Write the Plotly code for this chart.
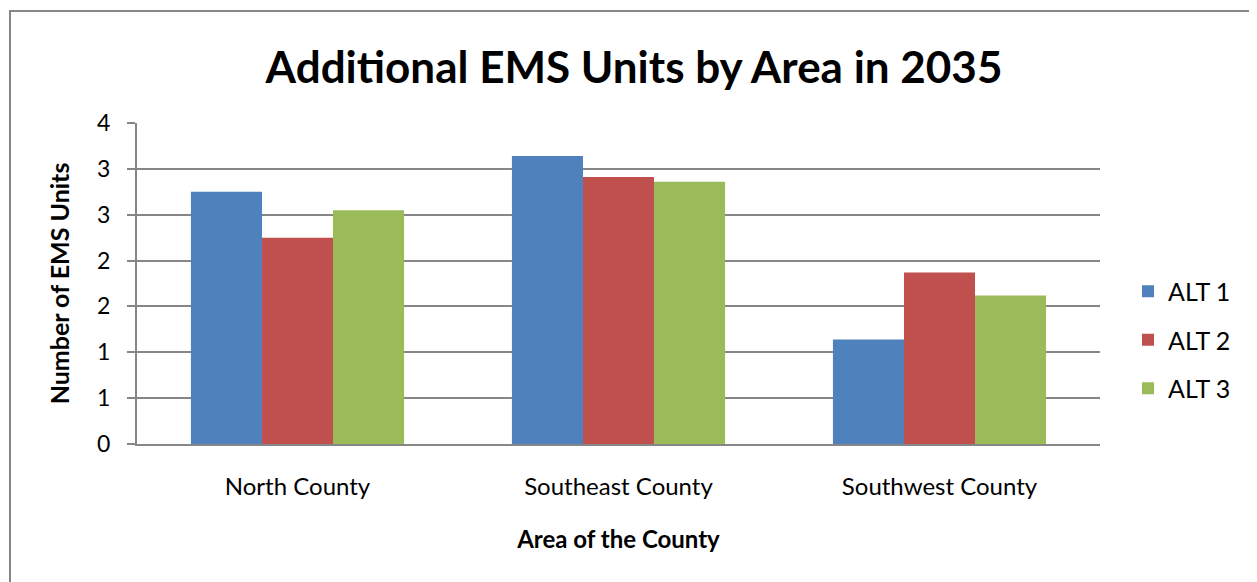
import plotly.graph_objects as go

categories = ["North County", "Southeast County", "Southwest County"]
series_names = ["ALT 1", "ALT 2", "ALT 3"]
alt1 = [2.75, 3.14, 1.14]
alt2 = [2.25, 2.91, 1.87]
alt3 = [2.55, 2.86, 1.62]
colors = ["#4F81BD", "#C0504D", "#9BBB59"]
tick_vals = [0, 0.5, 1, 1.5, 2, 2.5, 3, 3.5]
tick_text = ["0", "1", "1", "2", "2", "3", "3", "4"]

FONT = "Lato, Open Sans, sans-serif"

fig = go.Figure()
for name, vals, col in zip(series_names, [alt1, alt2, alt3], colors):
    fig.add_trace(go.Bar(x=categories, y=vals, name=name, marker_color=col,
                         marker_line_width=0, legendgroup=name))

OFF = 8  # page body margin
W, H = 1257 - OFF, 582 - OFF
L, R, T, B = 137 - OFF, 157, 123 - OFF, 138
pw = W - L - R
ph = H - T - B


def px_x(x):
    return (x - OFF - L) / pw


def px_y(y):
    return (T + ph - (y - OFF)) / ph


fig.update_layout(
    width=W, height=H,
    margin=dict(l=L, r=R, t=T, b=B),
    paper_bgcolor="white", plot_bgcolor="white",
    font=dict(family=FONT, size=24, color="black"),
    title=dict(text="<b>Additional EMS Units by Area in 2035</b>",
               font=dict(size=44, family=FONT, color="black"),
               x=(634 - OFF) / W, xanchor="center", y=1 - (68 - OFF) / H, yanchor="middle"),
    barmode="group", bargap=0.336, bargroupgap=0,
    legend=dict(x=px_x(1128), xanchor="left", y=px_y(340),
                yanchor="middle", font=dict(size=25, family=FONT),
                traceorder="grouped", tracegroupgap=13, bgcolor="rgba(0,0,0,0)"),
    xaxis=dict(showline=True, linecolor="#868686", linewidth=2, ticks="",
               showgrid=False,
               title=dict(text="<b>Area of the County</b>", font=dict(size=24), standoff=32),
               tickfont=dict(size=24), ticklabelstandoff=20),
    yaxis=dict(range=[0, 3.5], tickvals=tick_vals, ticktext=tick_text,
               showgrid=True, gridcolor="#868686", gridwidth=2,
               showline=True, linecolor="#868686", linewidth=2,
               ticks="outside", ticklen=8, tickcolor="#868686", tickwidth=2,
               tickfont=dict(size=23), zeroline=False, ticklabelstandoff=12,
               title=dict(text="<b>Number of EMS Units</b>", font=dict(size=25), standoff=20)),
    shapes=[dict(type="rect", xref="paper", yref="paper",
                 x0=px_x(10), x1=px_x(1290),
                 y0=px_y(620), y1=px_y(11),
                 line=dict(color="#868686", width=2), layer="below")],
)

fig.write_html("out.html")
